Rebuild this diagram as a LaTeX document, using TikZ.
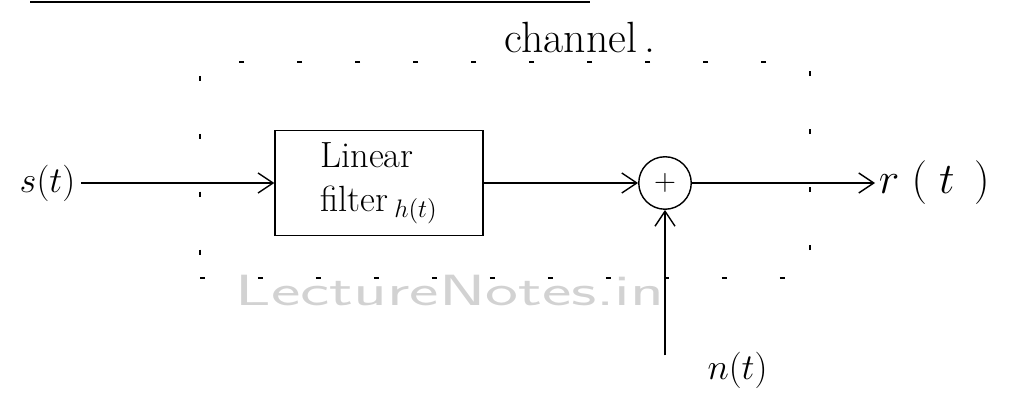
\documentclass[tikz,border=0pt]{standalone}
\usepackage{amsmath,amssymb}
\usetikzlibrary{arrows.meta}

\begin{document}
\begin{tikzpicture}[
    block/.style={draw, thick, rectangle, minimum width=4.16cm,
                  minimum height=2.1cm, align=left, font=\huge},
    adder/.style={draw, thick, circle, minimum size=1.05cm, inner sep=0pt,
                  font=\LARGE},
    chanbox/.style={draw, thick, dash pattern=on 3pt off 30pt,
                    minimum width=12.2cm, minimum height=4.32cm},
    signal/.style={font=\LARGE},
    arrow/.style={-{Straight Barb[length=3mm,width=4mm]}, thick}
]
    \useasboundingbox (0,0) rectangle (20.68,7.86);

    \draw[line width=1.2pt] (0.6,7.82) -- (11.8,7.82);

    \node[chanbox] (chan) at (10.1,4.46) {};
    \node[signal, font=\Huge] (chanlbl) at (11.6,7.1) {channel\,.};

    \node[text=gray!35, font=\sffamily\Huge, xscale=1.6, transform shape]
        (mark) at (9.0,2.05) {LectureNotes.in};

    \node[signal, font=\huge] (s) at (0.95,4.2) {$s(t)$};
    \node[block] (filter) at (7.58,4.2) {Linear\\filter$\,_{h(t)}$};
    \node[adder] (sum) at (13.3,4.2) {$+$};
    \node[signal, font=\Huge, anchor=west, inner sep=2pt] (r) at (17.5,4.2)
        {$r\;(\;t\;\,)$};
    \node[signal, font=\huge] (n) at (14.75,0.45) {$n(t)$};
    \coordinate (nin) at (13.3,0.75);

    \draw[arrow] (s) -- (filter);
    \draw[arrow] (filter) -- (sum);
    \draw[arrow] (sum) -- (r);
    \draw[arrow] (nin) -- (sum);
\end{tikzpicture}
\end{document}
